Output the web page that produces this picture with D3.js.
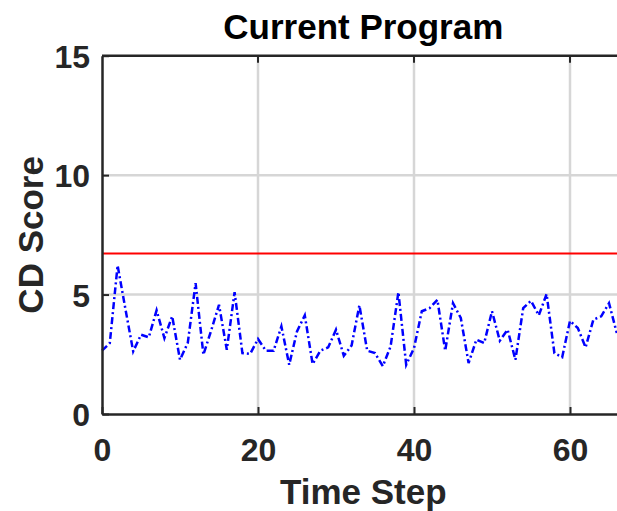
<!DOCTYPE html>
<html>
<head>
<meta charset="utf-8">
<script src="https://cdn.jsdelivr.net/npm/d3@7"></script>
<style>
  body { margin: 0; background: #fff; }
  svg { display: block; font-family: "Liberation Sans", Arial, Helvetica, sans-serif; }
</style>
</head>
<body>
<svg id="chart" width="617" height="511"></svg>
<script>
// CD score per time step (steps 0..66)
const timeSteps = d3.range(0, 67);
const cdScores = [
  2.65, 2.97, 6.22, 4.40, 2.62, 3.32, 3.21, 4.34, 3.18, 4.09,
  2.27, 2.98, 5.48, 2.48, 3.50, 4.57, 2.69, 5.10, 2.55, 2.52,
  3.14, 2.65, 2.65, 3.67, 2.06, 3.46, 4.13, 2.09, 2.65, 2.79,
  3.53, 2.44, 2.87, 4.55, 2.65, 2.55, 2.00, 2.83, 5.10, 2.06,
  2.76, 4.30, 4.43, 4.78, 2.65, 4.64, 4.02, 2.13, 3.11, 2.97,
  4.30, 3.07, 3.53, 2.27, 4.43, 4.74, 4.13, 5.02, 2.55, 2.38,
  3.90, 3.60, 2.79, 3.95, 4.09, 4.64, 3.39
];
const threshold = 6.72;

const xTicks = [0, 20, 40, 60];
const yTicks = [0, 5, 10, 15];

const svg = d3.select('#chart');
const plot = { left: 102, right: 624.6, top: 55.7, bottom: 414 };
const axisColor = '#262626';

const x = d3.scaleLinear().domain([0, 67]).range([plot.left, plot.right]);
const y = d3.scaleLinear().domain([0, 15]).range([plot.bottom, plot.top]);

// grid
const grid = svg.append('g').attr('stroke', '#d6d6d6').attr('stroke-width', 2.5);
grid.selectAll('.gx').data(xTicks.filter(d => d > 0)).enter().append('line')
  .attr('x1', d => x(d)).attr('x2', d => x(d))
  .attr('y1', plot.top).attr('y2', plot.bottom);
grid.selectAll('.gy').data(yTicks.filter(d => d > 0 && d < 15)).enter().append('line')
  .attr('x1', plot.left).attr('x2', plot.right)
  .attr('y1', d => y(d)).attr('y2', d => y(d));

// threshold line
svg.append('line')
  .attr('x1', x(0)).attr('x2', plot.right)
  .attr('y1', y(threshold)).attr('y2', y(threshold))
  .attr('stroke', '#ff0000').attr('stroke-width', 2);

// series
const line = d3.line().x((d, i) => x(timeSteps[i])).y(d => y(d));
svg.append('path')
  .datum(cdScores)
  .attr('d', line)
  .attr('fill', 'none')
  .attr('stroke', '#0000ff')
  .attr('stroke-width', 2.5)
  .attr('stroke-dasharray', '7,3,2,3');

// axes (box style, inward ticks)
const tickLen = 7;
const xAxis = d3.axisBottom(x).tickValues(xTicks).tickSizeInner(-tickLen).tickSizeOuter(0).tickPadding(14);
const yAxis = d3.axisLeft(y).tickValues(yTicks).tickSizeInner(-tickLen).tickSizeOuter(0).tickPadding(12);

const gx = svg.append('g').attr('transform', `translate(0,${plot.bottom})`).call(xAxis);
const gy = svg.append('g').attr('transform', `translate(${plot.left},0)`).call(yAxis);

[gx, gy].forEach(g => {
  g.select('.domain').attr('stroke', axisColor).attr('stroke-width', 2.5);
  g.selectAll('.tick line').attr('stroke', axisColor).attr('stroke-width', 2);
  g.selectAll('.tick text')
    .attr('fill', axisColor)
    .attr('font-size', 32)
    .attr('font-weight', 'bold')
    .attr('font-family', '"Liberation Sans", Arial, sans-serif');
});
gx.selectAll('.tick text').attr('dy', null).attr('y', 47);
gy.selectAll('.tick text').attr('dy', '0.36em');

// top box edge with ticks
svg.append('line')
  .attr('x1', plot.left).attr('x2', plot.right)
  .attr('y1', plot.top).attr('y2', plot.top)
  .attr('stroke', axisColor).attr('stroke-width', 2.5);
svg.selectAll('.topTick').data(xTicks.filter(d => d > 0)).enter().append('line')
  .attr('x1', d => x(d)).attr('x2', d => x(d))
  .attr('y1', plot.top).attr('y2', plot.top + tickLen)
  .attr('stroke', axisColor).attr('stroke-width', 2);

// title and labels
svg.append('text')
  .attr('x', (plot.left + plot.right) / 2).attr('y', 39)
  .attr('text-anchor', 'middle')
  .attr('font-size', 35).attr('font-weight', 'bold').attr('fill', '#000')
  .text('Current Program');

svg.append('text')
  .attr('x', (plot.left + plot.right) / 2).attr('y', 504)
  .attr('text-anchor', 'middle')
  .attr('font-size', 35).attr('font-weight', 'bold').attr('fill', axisColor)
  .text('Time Step');

svg.append('text')
  .attr('transform', `translate(43,${(plot.top + plot.bottom) / 2}) rotate(-90)`)
  .attr('text-anchor', 'middle')
  .attr('font-size', 35).attr('font-weight', 'bold').attr('fill', axisColor)
  .text('CD Score');
</script>
</body>
</html>
